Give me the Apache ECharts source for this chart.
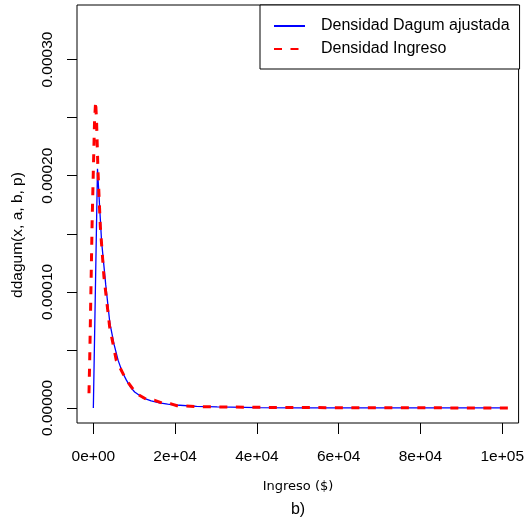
<!DOCTYPE html>
<html>
<head>
<meta charset="utf-8">
<script src="https://cdn.jsdelivr.net/npm/echarts@6/dist/echarts.min.js"></script>
<style>
  html, body { margin: 0; padding: 0; background: #fff; }
  #chart { width: 527px; height: 525px; }
</style>
</head>
<body>
<div id="chart"></div>
<script>
// fitted Dagum density (x, y)
const dagumX = [0, 1010, 2020, 3030, 4040, 5050, 6060, 7070, 8080, 9090, 10100, 12120, 14140, 16160, 18180, 20200, 25250, 30300, 40400, 50500, 70700, 100000]
const dagumY = [0, 0.000206, 0.000143, 0.000106, 0.000073, 0.000055, 0.000041, 0.000031, 0.000024, 0.000018, 0.0000138, 0.0000088, 0.0000062, 0.0000045, 0.0000034, 0.0000026, 0.0000015, 0.0000009, 0.0000004, 0.0000002, 0.0000001, 0.00000004]
// kernel density of income
const ingresoX = [-1070, -900, -600, -300, 0, 300, 560, 800, 1120, 1710, 2590, 3980, 5610, 8050, 10500, 13000, 15000, 17000, 19000, 20500, 25000, 30000, 40000, 50000, 60000, 70000, 80000, 90000, 100000, 102700]
const ingresoY = [0.0000127, 0.00004, 0.0001, 0.00016, 0.000205, 0.000248, 0.000264, 0.000245, 0.000205, 0.000156, 0.000113, 0.00007, 0.000041, 0.000024, 0.0000125, 0.0000075, 0.0000066, 0.000004, 0.0000036, 0.000002, 0.0000013, 0.000001, 0.0000006, 0.0000004, 0.0000003, 0.0000002, 0.00000015, 0.0000001, 0.0000001, 0.00000008]

const xTicks = [0, 20000, 40000, 60000, 80000, 100000]
const xTickLabels = ['0e+00', '2e+04', '4e+04', '6e+04', '8e+04', '1e+05']
const yTicks = [0, 0.00005, 0.0001, 0.00015, 0.0002, 0.00025, 0.0003]
const yLabelValues = [0, 0.0001, 0.0002, 0.0003]
const yTickLabels = ['0.00000', '0.00010', '0.00020', '0.00030']

const seriesNames = ['Densidad Dagum ajustada', 'Densidad Ingreso']

const font = 'Liberation Sans, Arial, sans-serif'
const pick = (vals, labels, v) => {
  let best = 0
  vals.forEach((t, i) => { if (Math.abs(t - v) < Math.abs(vals[best] - v)) best = i })
  return labels[best]
}

const chart = echarts.init(document.getElementById('chart'), null, { renderer: 'canvas' })

const option = {
  backgroundColor: '#fff',
  animation: false,
  grid: {
    left: 77, right: 7, top: 5, bottom: 102,
    show: true, borderColor: '#000', borderWidth: 1, backgroundColor: 'transparent'
  },
  xAxis: {
    type: 'value',
    min: -4000,
    max: 104000,
    axisLine: { show: false, onZero: false },
    splitLine: { show: false },
    axisTick: { show: true, inside: false, length: 11, customValues: xTicks, lineStyle: { color: '#000' } },
    axisLabel: {
      customValues: xTicks,
      margin: 26,
      fontFamily: font, fontSize: 15.5, color: '#000',
      formatter: v => pick(xTicks, xTickLabels, v)
    }
  },
  yAxis: {
    type: 'value',
    min: -0.0000129,
    max: 0.000347,
    axisLine: { show: false, onZero: false },
    splitLine: { show: false },
    axisTick: { show: true, inside: false, length: 10, customValues: yTicks, lineStyle: { color: '#000' } },
    axisLabel: {
      customValues: yLabelValues,
      rotate: 90,
      margin: 21,
      fontFamily: font, fontSize: 15.5, color: '#000',
      formatter: v => pick(yLabelValues, yTickLabels, v)
    }
  },
  legend: {
    orient: 'vertical',
    left: 260, top: 5,
    padding: [13, 10, 12, 13],
    itemWidth: 31, itemHeight: 16, itemGap: 7,
    borderColor: '#000', borderWidth: 1, borderRadius: 0,
    backgroundColor: '#fff',
    itemStyle: { opacity: 0 },
    textStyle: { fontFamily: font, fontSize: 16, color: '#000', padding: [0, 0, 0, 11] },
    data: seriesNames
  },
  series: [
    {
      name: seriesNames[0],
      type: 'line',
      symbol: 'none',
      data: dagumX.map((x, i) => [x, dagumY[i]]),
      lineStyle: { color: '#0000ff', width: 1.3 },
      itemStyle: { color: '#0000ff' },
      z: 2
    },
    {
      name: seriesNames[1],
      type: 'line',
      symbol: 'none',
      data: ingresoX.map((x, i) => [x, ingresoY[i]]),
      lineStyle: { color: '#ff0000', width: 3, type: [8, 8.5] },
      itemStyle: { color: '#ff0000' },
      z: 3
    }
  ],
  graphic: [
    {
      type: 'text', x: 18, y: 235, rotation: Math.PI / 2,
      style: { text: 'ddagum(x, a, b, p)', font: '15.5px Liberation Sans', fill: '#000', textAlign: 'center', textVerticalAlign: 'middle' }
    },
    {
      type: 'text', x: 298, y: 487,
      style: { text: 'Ingreso ($)', font: '13px DejaVu Sans', fill: '#000', textAlign: 'center', textVerticalAlign: 'middle' }
    },
    {
      type: 'text', x: 298, y: 510,
      style: { text: 'b)', font: '16px Liberation Sans', fill: '#000', textAlign: 'center', textVerticalAlign: 'middle' }
    }
  ]
}

chart.setOption(option)
</script>
</body>
</html>
